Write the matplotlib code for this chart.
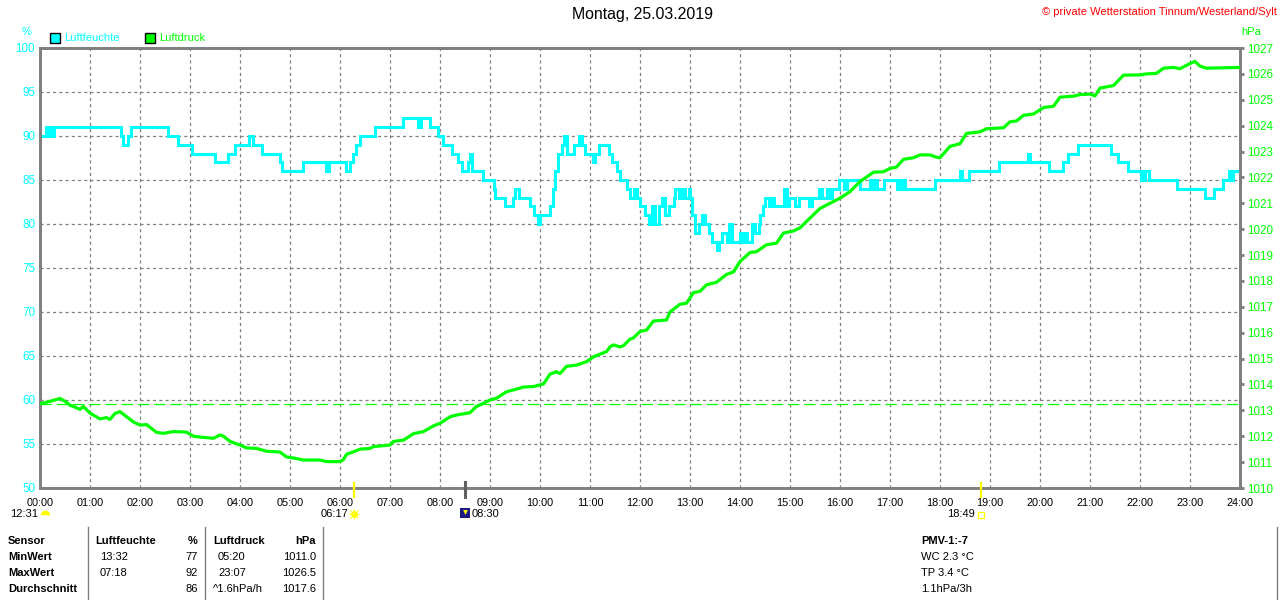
import matplotlib
matplotlib.use('Agg')
import matplotlib.pyplot as plt
import matplotlib.transforms as mtransforms

plt.rcParams['font.family'] = ['Liberation Sans', 'DejaVu Sans']

# ---------------- data ----------------
hum_hours = [0.00, 0.12, 0.15, 0.20, 0.24, 0.28, 1.62, 1.66, 1.76, 1.82,
             2.56, 2.76, 3.04, 3.50, 3.76, 3.90, 4.18, 4.26, 4.44, 4.80,
             4.84, 5.26, 5.72, 5.78, 6.12, 6.20, 6.26, 6.32, 6.40, 6.70,
             7.26, 7.56, 7.62, 7.80, 7.96, 8.06, 8.23, 8.37, 8.43, 8.55,
             8.59, 8.63, 8.87, 9.07, 9.10, 9.30, 9.45, 9.50, 9.57, 9.80,
             9.87, 9.95, 10.00, 10.20, 10.25, 10.30, 10.35, 10.43, 10.47, 10.53,
             10.67, 10.77, 10.83, 10.90, 11.05, 11.10, 11.17, 11.37, 11.43, 11.53,
             11.60, 11.73, 11.80, 11.87, 11.93, 12.00, 12.10, 12.17, 12.23, 12.30,
             12.37, 12.43, 12.50, 12.57, 12.67, 12.70, 12.77, 12.83, 12.90, 12.97,
             13.00, 13.03, 13.10, 13.17, 13.23, 13.30, 13.37, 13.43, 13.53, 13.57,
             13.63, 13.73, 13.77, 13.83, 14.00, 14.03, 14.10, 14.13, 14.23, 14.30,
             14.37, 14.40, 14.45, 14.50, 14.57, 14.63, 14.67, 14.87, 14.93, 14.97,
             15.10, 15.17, 15.37, 15.43, 15.57, 15.63, 15.73, 15.80, 15.83, 15.97,
             16.07, 16.10, 16.12, 16.15, 16.40, 16.60, 16.63, 16.70, 16.73, 16.87,
             17.13, 17.17, 17.20, 17.25, 17.30, 17.90, 18.40, 18.44, 18.58, 19.17,
             19.76, 19.80, 20.17, 20.45, 20.55, 20.75, 21.42, 21.55, 21.75, 22.02,
             22.05, 22.08, 22.10, 22.17, 22.73, 23.30, 23.48, 23.65, 23.78, 23.82,
             23.85, 24.00]
hum_values = [90, 91, 90, 91, 90, 91, 90, 89, 90, 91,
              90, 89, 88, 87, 88, 89, 90, 89, 88, 87,
              86, 87, 86, 87, 86, 87, 88, 89, 90, 91,
              92, 91, 92, 91, 90, 89, 88, 87, 86, 87,
              88, 86, 85, 84, 83, 82, 83, 84, 83, 82,
              81, 80, 81, 82, 84, 86, 88, 89, 90, 88,
              89, 90, 89, 88, 87, 88, 89, 88, 87, 86,
              85, 84, 83, 84, 83, 82, 81, 80, 82, 80,
              82, 83, 81, 82, 83, 84, 83, 84, 83, 84,
              83, 81, 79, 80, 81, 80, 79, 78, 77, 78,
              79, 78, 80, 78, 79, 78, 79, 78, 80, 79,
              80, 81, 82, 83, 82, 83, 82, 84, 82, 83,
              82, 83, 82, 83, 84, 83, 84, 83, 84, 85,
              84, 85, 84, 85, 84, 85, 84, 85, 84, 85,
              84, 85, 84, 85, 84, 85, 86, 85, 86, 87,
              88, 87, 86, 87, 88, 89, 88, 87, 86, 85,
              86, 85, 86, 85, 84, 83, 84, 85, 86, 85,
              86, 86]

press_hours = [0.0, 0.2, 0.4, 0.5, 0.6, 0.8, 0.87, 1.0, 1.2, 1.33,
               1.4, 1.5, 1.6, 1.7, 1.87, 2.0, 2.13, 2.33, 2.47, 2.67,
               2.93, 3.07, 3.2, 3.47, 3.6, 3.67, 3.8, 4.0, 4.13, 4.33,
               4.53, 4.8, 4.93, 5.07, 5.27, 5.6, 5.73, 6.0, 6.07, 6.13,
               6.27, 6.4, 6.6, 6.67, 7.0, 7.07, 7.27, 7.47, 7.67, 7.87,
               8.0, 8.2, 8.33, 8.6, 8.73, 8.8, 9.0, 9.13, 9.33, 9.47,
               9.67, 9.87, 10.07, 10.2, 10.33, 10.4, 10.53, 10.73, 10.93, 11.07,
               11.33, 11.4, 11.47, 11.6, 11.67, 11.8, 11.87, 12.0, 12.13, 12.27,
               12.53, 12.6, 12.8, 12.93, 13.07, 13.2, 13.33, 13.53, 13.73, 13.87,
               14.0, 14.2, 14.33, 14.53, 14.73, 14.87, 15.07, 15.2, 15.33, 15.6,
               15.8, 16.0, 16.2, 16.4, 16.67, 16.87, 17.0, 17.13, 17.27, 17.47,
               17.6, 17.8, 17.93, 18.0, 18.2, 18.4, 18.53, 18.8, 18.93, 19.27,
               19.4, 19.53, 19.67, 19.87, 20.07, 20.27, 20.4, 20.67, 20.8, 21.0,
               21.1, 21.2, 21.47, 21.67, 22.0, 22.13, 22.33, 22.47, 22.67, 22.8,
               23.0, 23.1, 23.2, 23.33, 24.0]
press_values = [1013.25, 1013.35, 1013.46, 1013.35, 1013.2, 1013.04, 1013.15, 1012.89, 1012.67, 1012.72,
                1012.65, 1012.88, 1012.95, 1012.8, 1012.55, 1012.43, 1012.45, 1012.15, 1012.11, 1012.18,
                1012.16, 1012.0, 1011.97, 1011.92, 1012.05, 1012.0, 1011.8, 1011.66, 1011.55, 1011.53,
                1011.42, 1011.39, 1011.2, 1011.16, 1011.08, 1011.08, 1011.02, 1011.02, 1011.1, 1011.3,
                1011.4, 1011.5, 1011.53, 1011.6, 1011.66, 1011.8, 1011.85, 1012.1, 1012.18, 1012.4,
                1012.5, 1012.75, 1012.82, 1012.91, 1013.15, 1013.21, 1013.4, 1013.47, 1013.72, 1013.79,
                1013.9, 1013.92, 1014.02, 1014.4, 1014.49, 1014.42, 1014.7, 1014.75, 1014.88, 1015.07,
                1015.27, 1015.45, 1015.53, 1015.45, 1015.5, 1015.75, 1015.8, 1016.05, 1016.1, 1016.45,
                1016.49, 1016.8, 1017.1, 1017.14, 1017.55, 1017.6, 1017.85, 1017.95, 1018.25, 1018.35,
                1018.75, 1019.1, 1019.13, 1019.4, 1019.46, 1019.85, 1019.93, 1020.05, 1020.3, 1020.8,
                1021.0, 1021.2, 1021.45, 1021.84, 1022.2, 1022.22, 1022.35, 1022.4, 1022.7, 1022.76,
                1022.87, 1022.87, 1022.78, 1022.76, 1023.2, 1023.3, 1023.7, 1023.76, 1023.88, 1023.92,
                1024.15, 1024.18, 1024.4, 1024.45, 1024.7, 1024.75, 1025.1, 1025.14, 1025.2, 1025.22,
                1025.15, 1025.45, 1025.55, 1025.95, 1025.96, 1026.0, 1026.02, 1026.22, 1026.25, 1026.2,
                1026.4, 1026.48, 1026.3, 1026.22, 1026.25]
assert len(hum_hours) == len(hum_values)
assert len(press_hours) == len(press_values)

hour_ticks = list(range(25))
hour_labels = [f"{h:02d}:00" for h in hour_ticks]
hum_ticks = [50, 55, 60, 65, 70, 75, 80, 85, 90, 95, 100]
press_ticks = list(range(1010, 1028))
ref_pressure = 1013.25

title = "Montag, 25.03.2019"
copyright_text = "\u00a9 private Wetterstation Tinnum/Westerland/Sylt"

# astro events: moon, sunrise, moon phase, sunset
moon_hour, moon_label = 0.09, "12:31"
sunrise_hour, sunrise_label = 6.283, "06:17"
phase_hour, phase_label = 8.5, "08:30"
sunset_hour, sunset_label = 18.817, "18:49"

row_headers = ["Sensor", "MinWert", "MaxWert", "Durchschnitt"]
hum_col_title, hum_unit = "Luftfeuchte", "%"
hum_times = ["13:32", "07:18", ""]
hum_stats = ["77", "92", "86"]
press_col_title, press_unit = "Luftdruck", "hPa"
press_times = ["05:20", "23:07", "^1.6hPa/h"]
press_stats = ["1011.0", "1026.5", "1017.6"]
extra_title = "PMV-1:-7"
extra_lines = ["WC 2.3 \u00b0C", "TP 3.4 \u00b0C", "1.1hPa/3h"]

# ---------------- style ----------------
CYAN = '#00FFFF'
GREEN = '#00FF00'
GRAY = '#808080'
W, H, DPI = 1280, 600, 100

fig = plt.figure(figsize=(W / DPI, H / DPI), dpi=DPI, facecolor='white')
ax = fig.add_axes([40 / W, 1 - 488 / H, 1200 / W, 440 / H])
ax.set_facecolor('white')

ax.plot(hum_hours, hum_values, drawstyle='steps-post', color=CYAN, lw=2.2,
        solid_joinstyle='miter', zorder=3)
ax.set_xlim(0, 24)
ax.set_ylim(50, 100)
ax.set_xticks(hour_ticks)
ax.set_xticklabels(hour_labels)
ax.set_yticks(hum_ticks)
ax.set_yticklabels([str(v) for v in hum_ticks])
ax.grid(True, color=GRAY, lw=0.9, linestyle=(0, (2.5, 2.5)))
ax.set_axisbelow(True)
ax.tick_params(axis='x', length=0, pad=7, labelsize=7.8, labelcolor='black')
ax.tick_params(axis='y', length=0, pad=3.5, labelsize=8.4, labelcolor=CYAN)
for s in ax.spines.values():
    s.set_color(GRAY)
    s.set_linewidth(2.0)

ax2 = ax.twinx()
ax2.axhline(ref_pressure, color=GREEN, lw=0.9, linestyle=(0, (9, 4)), zorder=1)
ax2.plot(press_hours, press_values, color=GREEN, lw=2.3, zorder=4)
ax2.set_ylim(1010, 1027)
ax2.set_yticks(press_ticks)
ax2.set_yticklabels([str(v) for v in press_ticks])
ax2.tick_params(axis='y', length=3, width=2, color=GRAY, pad=2.5,
                labelsize=8.4, labelcolor=GREEN)
for s in ax2.spines.values():
    s.set_color(GRAY)
    s.set_linewidth(2.0)

# overlay in pixel coordinates for texts / legend / table
ov = fig.add_axes([0, 0, 1, 1], zorder=5)
ov.set_xlim(0, W)
ov.set_ylim(H, 0)
ov.axis('off')
ov.patch.set_alpha(0)

ov.text(642, 15, title, ha='center', va='center', fontsize=11.4, color='black')
ov.text(1277, 12, copyright_text, ha='right', va='center', fontsize=8, color='#FF0000')

ov.text(26.5, 32, "%", ha='center', va='center', fontsize=8, color=CYAN)
ov.text(1241, 32, "hPa", ha='left', va='center', fontsize=8, color=GREEN)

# legend
ov.add_patch(plt.Rectangle((50, 33), 10, 10, facecolor=CYAN, edgecolor='black', lw=1))
ov.text(64, 38, "Luftfeuchte", ha='left', va='center', fontsize=8, color=CYAN)
ov.add_patch(plt.Rectangle((145, 33), 10, 10, facecolor=GREEN, edgecolor='black', lw=1))
ov.text(159, 38, "Luftdruck", ha='left', va='center', fontsize=8, color=GREEN)

# astro markers below the axis (x in hours, y in pixels)
trans = mtransforms.blended_transform_factory(ax.transData, ov.transData)
tl = mtransforms.offset_copy(trans, fig=fig, x=-6, y=0, units='dots')
tr = mtransforms.offset_copy(trans, fig=fig, x=7, y=0, units='dots')
ytxt = 514

ov.plot([moon_hour], [515], marker='o', ms=7, fillstyle='top', color='#FFFF00',
        markerfacecoloralt='white', markeredgewidth=0, transform=trans, clip_on=False)
ov.text(moon_hour, ytxt, moon_label, ha='right', va='center', fontsize=8,
        transform=tl)

ov.plot([sunrise_hour, sunrise_hour], [483, 497], color='#FFFF00', lw=1.6,
        transform=trans, clip_on=False)
ov.plot([sunrise_hour], [514], marker=(8, 2, 0), ms=8, color='#FFFF66', mew=0.8,
        transform=trans, clip_on=False)
ov.plot([sunrise_hour], [514], marker='o', ms=5, color='#FFFF00', mew=0,
        transform=trans, clip_on=False)
ov.text(sunrise_hour, ytxt, sunrise_label, ha='right', va='center', fontsize=8,
        transform=tl)

ov.plot([phase_hour, phase_hour], [482, 497], color='#606060', lw=2.2,
        transform=trans, clip_on=False)
ov.plot([phase_hour], [513], marker='s', ms=7, color='#1A1A80', mew=0,
        transform=trans, clip_on=False)
ov.plot([phase_hour], [512], marker='v', ms=3.5, color='#FFFF00', mew=0,
        transform=trans, clip_on=False)
ov.text(phase_hour, ytxt, phase_label, ha='left', va='center', fontsize=8,
        transform=tr)

ov.plot([sunset_hour, sunset_hour], [483, 497], color='#FFFF00', lw=1.6,
        transform=trans, clip_on=False)
ov.plot([sunset_hour], [515], marker='s', ms=4, markerfacecolor='white',
        markeredgecolor='#FFFF00', mew=0.9, transform=trans, clip_on=False)
ov.text(sunset_hour, ytxt, sunset_label, ha='right', va='center', fontsize=8,
        transform=tl)

# table
row_y = [541, 557, 573, 589]
for x in (88, 205, 323, 1277):
    ov.plot([x, x], [527, 600], color=GRAY, lw=1.0)
for y, t in zip(row_y, row_headers):
    ov.text(8, y, t, ha='left', va='center', fontsize=8, fontweight='bold')
ov.text(95, row_y[0], hum_col_title, ha='left', va='center', fontsize=8, fontweight='bold')
ov.text(198, row_y[0], hum_unit, ha='right', va='center', fontsize=8, fontweight='bold')
ov.text(213, row_y[0], press_col_title, ha='left', va='center', fontsize=8, fontweight='bold')
ov.text(316, row_y[0], press_unit, ha='right', va='center', fontsize=8, fontweight='bold')
for y, tm, v in zip(row_y[1:], hum_times, hum_stats):
    ov.text(100, y, tm, ha='left', va='center', fontsize=8)
    ov.text(198, y, v, ha='right', va='center', fontsize=8)
for i, (y, tm, v) in enumerate(zip(row_y[1:], press_times, press_stats)):
    ov.text(213 if i == 2 else 218, y, tm, ha='left', va='center', fontsize=8)
    ov.text(316, y, v, ha='right', va='center', fontsize=8)
ov.text(921, row_y[0], extra_title, ha='left', va='center', fontsize=8, fontweight='bold')
for y, t in zip(row_y[1:], extra_lines):
    ov.text(921, y, t, ha='left', va='center', fontsize=8)

fig.savefig('out.png', dpi=DPI, facecolor='white')
